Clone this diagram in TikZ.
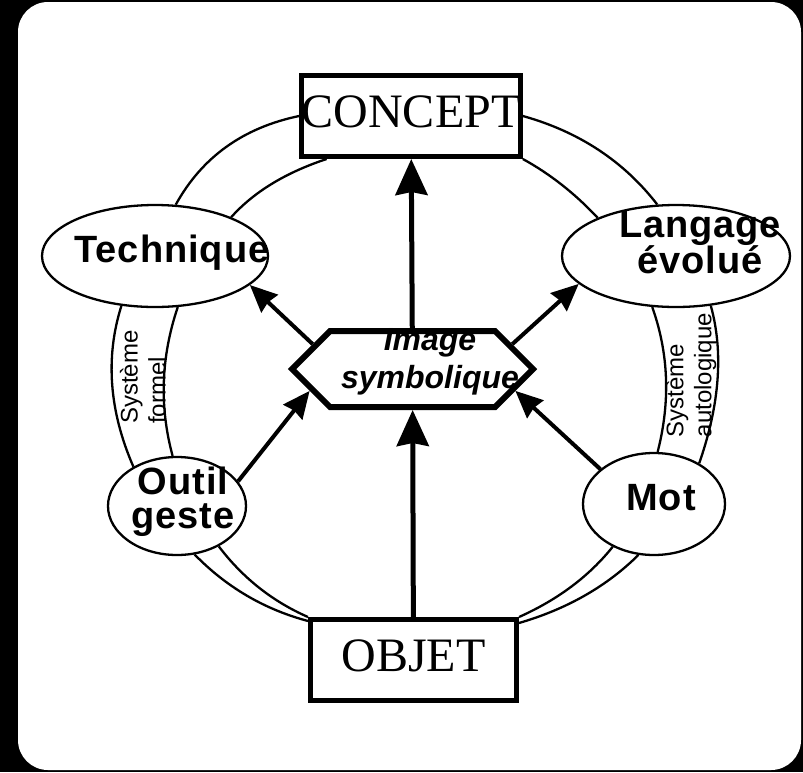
\documentclass[tikz,border=0pt]{standalone}
\usepackage{fontspec}
\setmainfont{Liberation Serif}
\setsansfont{Liberation Sans}
\newfontfamily\blobfont{Liberation Sans}[LetterSpace=2.5]
\usetikzlibrary{arrows.meta,shapes.geometric,shapes.symbols,calc}

\tikzset{
  box/.style={draw, line width=5pt, rectangle, minimum width=209pt, minimum height=81pt, inner sep=0pt, text height=32pt, text depth=10pt, fill=white, font=\fontsize{48}{48}\selectfont},
  blob/.style={draw, line width=2.3pt, ellipse, inner sep=0pt, fill=white},
  hexa/.style={draw, line width=6pt, signal, signal to=west and east, signal pointer angle=90, minimum width=241pt, minimum height=76pt, inner sep=0pt, fill=white},
  lbl/.style={font=\fontsize{38}{36}\selectfont\blobfont\bfseries, align=center, inner sep=0pt},
  imglbl/.style={font=\fontsize{32}{38}\selectfont\sffamily\bfseries\itshape, align=center, inner sep=0pt},
  sys/.style={font=\fontsize{24}{28}\selectfont\sffamily, align=left, rotate=90, inner sep=0pt},
  ring/.style={line width=2.3pt},
  arcto/.style={to path={.. controls ($(\tikztostart)!.667!#1$) and ($(\tikztotarget)!.667!#1$) .. (\tikztotarget)}},
  bigarrow/.style={line width=5pt, -{Stealth[length=36pt,width=32pt,inset=3pt]}},
  smallarrow/.style={line width=4pt, -{Stealth[length=27pt,width=24pt,inset=2pt]}},
}

\begin{document}
\begin{tikzpicture}[x=1pt,y=-1pt]
    % frame
    \fill[black] (0,0) rectangle (803,772);
    \fill[white, rounded corners=30pt] (18,2) rectangle (801,770);

    % nodes
    \node[box] (concept) at (411,116) {CONCEPT};
    \node[box, minimum width=206pt] (objet) at (413.5,660) {OBJET};
    \node[hexa] (hex) at (412.5,369) {};
    \node[blob, minimum width=226pt, minimum height=102pt] (tech) at (155,256) {};
    \node[blob, minimum width=228pt, minimum height=102pt] (lang) at (676,256) {};
    \node[blob, minimum width=138pt, minimum height=98pt] (outil) at (177,506) {};
    \node[blob, minimum width=142pt, minimum height=102pt] (mot) at (654,504) {};

    % ring
    \draw[ring] (concept.west) to[arcto={(215,133.5)}] (tech.68);
    \draw[ring] (concept.-153) to[arcto={(265,179.4)}] (tech.27);
    \draw[ring] (concept.east) to[arcto={(607,139.5)}] (lang.110);
    \draw[ring] (concept.south east) to[arcto={(563.5,181.3)}] (lang.154);
    \draw[ring] (tech.-124) to[arcto={(97,383)}] (outil.138);
    \draw[ring] (tech.-66) to[arcto={(152.5,382)}] (outil.95);
    \draw[ring] (lang.-115) to[arcto={(677,376.5)}] (mot.86);
    \draw[ring] (lang.-55) to[arcto={(730,375)}] (mot.42);
    \draw[ring] (outil.-70) to[arcto={(242.4,603.5)}] ([yshift=-4pt]objet.north west);
    \draw[ring] (outil.-44) to[arcto={(254.6,593.6)}] (objet.north west);
    \draw[ring] (mot.-134) to[arcto={(577.4,590.9)}] (objet.north east);
    \draw[ring] (mot.-107) to[arcto={(591,602)}] ([yshift=-6pt]objet.north east);

    % arrows
    \draw[bigarrow] (hex) -- (concept);
    \draw[bigarrow] (objet) -- (hex);
    \draw[smallarrow] (hex.166) -- (tech.-17);
    \draw[smallarrow] (hex.14) -- (lang.196);
    \draw[smallarrow] (outil.22) -- (hex.192);
    \draw[smallarrow] (mot.147) -- (hex.-12);

    % labels (base = last line)
    \node[lbl, anchor=base] (techtxt) at (172,262) {Technique};
    \node[lbl, anchor=base] (langtxt) at (700,273) {Langage\\évolué};
    \node[lbl, font=\fontsize{38}{34}\selectfont\blobfont\bfseries, anchor=base] (outiltxt) at (183,528) {Outil\\geste};
    \node[lbl, anchor=base] (mottxt) at (661,510) {Mot};
    \node[imglbl, anchor=base] (hextxt) at (430,388) {Image\\symbolique};
    \node[sys] (formel) at (143,377) {Système\\formel};
    \node[sys] (autolog) at (691,375) {Système\\autologique};
\end{tikzpicture}
\end{document}
